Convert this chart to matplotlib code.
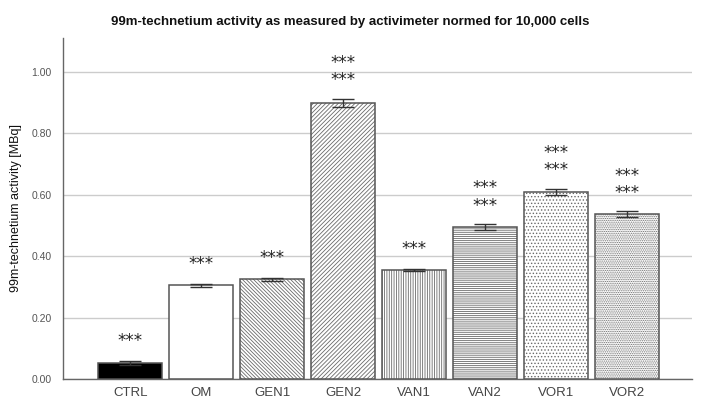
import matplotlib
matplotlib.use("Agg")
import matplotlib.pyplot as plt
import numpy as np

categories = ["CTRL", "OM", "GEN1", "GEN2", "VAN1", "VAN2", "VOR1", "VOR2"]
values = [0.052, 0.306, 0.325, 0.899, 0.355, 0.495, 0.609, 0.537]
errors = [0.008, 0.005, 0.005, 0.014, 0.004, 0.009, 0.011, 0.009]
star_rows = [1, 1, 1, 2, 1, 2, 2, 2]
hatches = [None, None, "\\" * 9, "/" * 8, "|" * 7, "-" * 8, "." * 5, "." * 9]
facecolors = ["black", "white", "white", "white", "white", "white", "white", "white"]
yticks = [0.0, 0.2, 0.4, 0.6, 0.8, 1.0]

plt.rcParams["font.family"] = ["Liberation Sans", "DejaVu Sans"]
plt.rcParams["hatch.linewidth"] = 0.6

fig = plt.figure(figsize=(7.05, 4.08), dpi=100)
ax = fig.add_axes([0.0894, 0.0711, 0.8922, 0.8358])

x = np.arange(len(categories))
for i in range(len(categories)):
    ax.bar(x[i], values[i], width=0.9, color=facecolors[i], edgecolor="#6a6a6a",
           linewidth=0, hatch=hatches[i], zorder=3)
    ax.bar(x[i], values[i], width=0.9, color="none", edgecolor="#555555",
           linewidth=1.1, zorder=3.5)
ax.errorbar(x, values, yerr=errors, fmt="none", ecolor="#333333", elinewidth=1.0,
            capsize=8, capthick=1.0, zorder=4)

for i in range(len(categories)):
    top = values[i] + errors[i]
    n = star_rows[i]
    ax.annotate("\n".join(["***"] * n), (x[i], top),
                xytext=(0, 14 + 5.6 * (n - 1)), textcoords="offset points",
                ha="center", va="center", fontsize=12, color="#222222",
                linespacing=0.95, family="DejaVu Sans")

ax.set_xlim(-0.95, 7.92)
ax.set_ylim(0, 1.111)
ax.set_yticks(yticks)
ax.set_yticklabels([f"{v:.2f}" for v in yticks])
ax.set_xticks(x)
ax.set_xticklabels(categories)
ax.tick_params(axis="both", length=0)
ax.tick_params(axis="y", labelsize=7.5, labelcolor="#555555", pad=8)
ax.tick_params(axis="x", labelsize=9.5, labelcolor="#444444", pad=6)
ax.grid(axis="y", color="#cccccc", linewidth=1.0, zorder=0)
ax.set_axisbelow(True)
for s in ["top", "right"]:
    ax.spines[s].set_visible(False)
for s in ["left", "bottom"]:
    ax.spines[s].set_color("#666666")
    ax.spines[s].set_linewidth(1.0)

ax.set_ylabel("99m-technetium activity [MBq]", fontsize=9, color="#111111")
ax.yaxis.set_label_coords(-0.065, 0.5)
fig.text(0.497, 0.945, "99m-technetium activity as measured by activimeter normed for 10,000 cells",
         ha="center", va="center", fontsize=9.5, fontweight="bold", color="#111111")

fig.savefig("out.png", dpi=100)
